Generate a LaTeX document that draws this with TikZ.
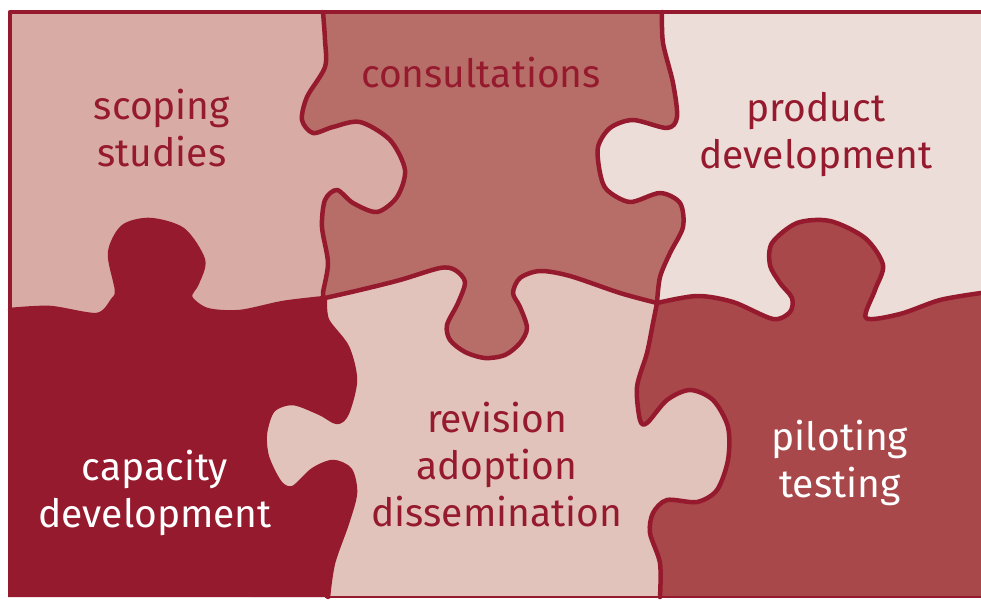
\documentclass[tikz,border=0pt]{standalone}
\usepackage{fontspec}
\setmainfont{Fira Sans}
\definecolor{puzzlered}{HTML}{961A2E}
\definecolor{scopingc}{HTML}{D8ABA5}
\definecolor{consultc}{HTML}{B86E68}
\definecolor{productc}{HTML}{EDDDD9}
\definecolor{revisionc}{HTML}{E2C3BB}
\definecolor{pilotingc}{HTML}{A8484A}
\begin{document}
\begin{tikzpicture}[x=1pt,y=-1pt,
  seam/.style={draw=puzzlered,line width=4.5pt,line join=round,line cap=round},
  word/.style={align=center,font=\fontsize{39}{47}\selectfont,text=puzzlered}]
\useasboundingbox (0,0) rectangle (981,599);
% seams between the pieces
\def\edgeA{-- plot[smooth] coordinates {(323,12) (325,40) (325,67) (307,97) (302,120) (313,133) (333,127) (360,122) (390,140) (405,170) (397,197) (377,212) (353,203) (337,190) (325,200) (322,227) (328,263) (323,293) (325,298)}}
\def\edgeB{-- plot[smooth] coordinates {(10,310) (50,308) (97,315) (113,300) (117,290) (110,253) (123,227) (150,220) (183,230) (203,260) (197,283) (190,297) (207,310) (240,312) (283,303) (325,298)}}
\def\edgeC{-- plot[smooth] coordinates {(662,12) (663,43) (673,83) (677,117) (667,128) (633,120) (610,128) (598,147) (600,173) (607,190) (630,202) (660,193) (680,203) (683,227) (670,253) (660,277) (657,303)}}
\def\edgeD{-- plot[smooth] coordinates {(657,303) (620,293) (570,276) (540,271) (520,278) (513,293) (520,307) (527,328) (520,343) (505,355) (485,358) (465,352) (450,340) (447,325) (458,303) (465,282) (455,270) (440,268) (400,280) (360,290) (325,298)}}
\def\edgeE{-- plot[smooth] coordinates {(325,298) (327,320) (347,347) (355,380) (347,413) (337,422) (320,413) (293,403) (273,410) (265,433) (267,457) (280,483) (293,488) (313,470) (333,462) (350,470) (355,493) (347,523) (333,563) (328,597)}}
\def\edgeF{-- plot[smooth] coordinates {(657,303) (697,296) (733,302) (773,319) (790,312) (792,298) (780,283) (770,265) (772,243) (797,223) (830,221) (865,238) (883,265) (875,290) (866,318) (900,314) (940,300) (981,293)}}
\def\edgeG{-- plot[smooth] coordinates {(657,303) (653,323) (647,353) (637,387) (640,420) (647,423) (667,400) (690,390) (713,400) (728,427) (728,460) (717,490) (697,502) (667,500) (653,513) (650,533) (660,563) (660,597)}}
% pieces, back to front
\fill[pilotingc] (10,12) rectangle (981,597);
\fill[productc] (590,12) -- (590,303) \edgeF -- (981,12) -- cycle;
\fill[revisionc] (250,250) -- (657,250) \edgeG -- (250,597) -- cycle;
\fill[consultc] (290,12) \edgeC \edgeD -- (290,298) -- cycle;
\fill[scopingc] (10,12) \edgeA -- (325,330) -- (10,330) -- cycle;
\fill[puzzlered] (8,310) \edgeB \edgeE -- (8,597) -- cycle;
% outlines
\draw[seam] (10,310) -- (10,12) -- (981,12);
\draw[puzzlered,line width=1.5pt] (325,597) -- (981,597);
\draw[seam] (323,12) \edgeA;
\draw[seam] (10,310) \edgeB;
\draw[seam] (662,12) \edgeC;
\draw[seam] (657,303) \edgeD;
\draw[seam] (325,298) \edgeE;
\draw[seam] (657,303) \edgeF;
\draw[seam] (657,303) \edgeG;
% labels
\node[word] (scoping) at (162,128) {scoping\\studies};
\node[word] (consult) at (481,73) {consultations};
\node[word] (product) at (816,135) {product\\development};
\node[word,text=white] (capacity) at (155,493) {capacity\\development};
\node[word] (revision) at (497,465) {revision\\adoption\\dissemination};
\node[word,text=white] (piloting) at (840,463) {piloting\\testing};
\end{tikzpicture}
\end{document}
